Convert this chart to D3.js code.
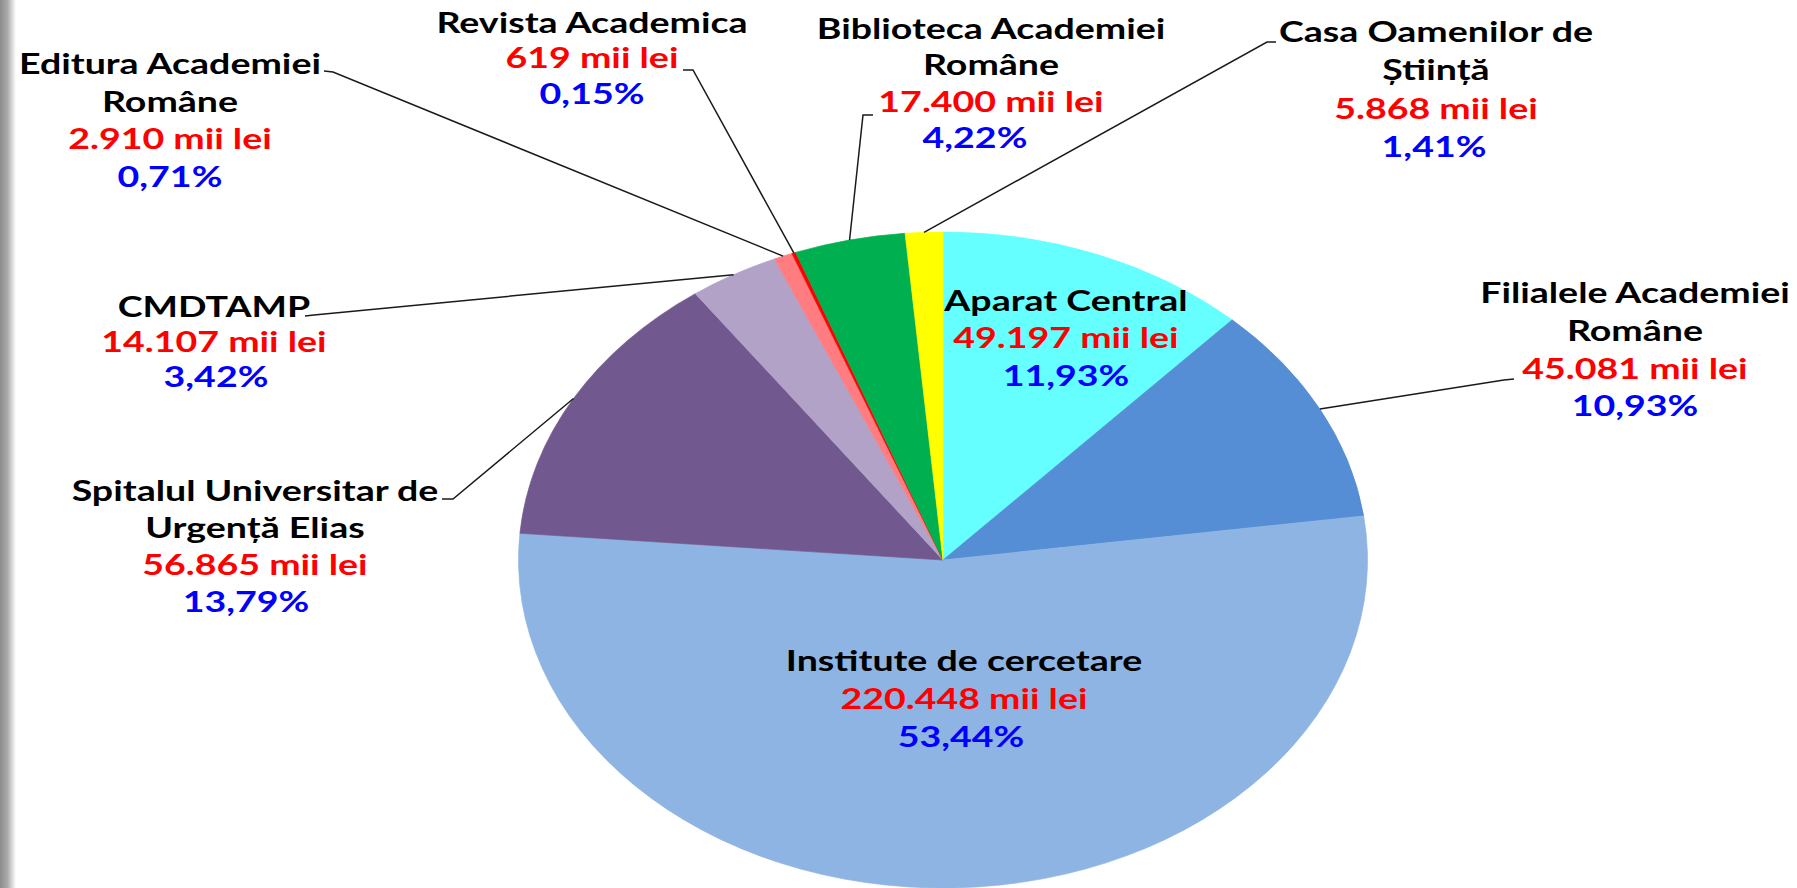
<!DOCTYPE html>
<html>
<head>
<meta charset="utf-8">
<script src="https://cdn.jsdelivr.net/npm/d3@7"></script>
<style>
  body { margin: 0; background: #fff; }
  svg { display: block; }
  text { font-family: Lato, "Noto Sans", sans-serif; font-weight: 700; }
</style>
</head>
<body>
<svg id="chart" width="1797" height="888"></svg>
<script>
// chart data
const nameLines = [
  ["Aparat Central"],
  ["Filialele Academiei", "Române"],
  ["Institute de cercetare"],
  ["Spitalul Universitar de", "Urgență Elias"],
  ["CMDTAMP"],
  ["Editura Academiei", "Române"],
  ["Revista Academica"],
  ["Biblioteca Academiei", "Române"],
  ["Casa Oamenilor de", "Știință"]
]
const values = [49197, 45081, 220448, 56865, 14107, 2910, 619, 17400, 5868]
const pctLabels = ["11,93%", "10,93%", "53,44%", "13,79%", "3,42%", "0,71%", "0,15%", "4,22%", "1,41%"]
const colors = ["#66FFFF", "#558ED5", "#8EB4E3", "#71588F", "#B3A2C7", "#FF7C80", "#FF0000", "#00B050", "#FFFF00"]

// layout (full picture coords): label centre x, first baseline, line height, pct shift, leader tick
const labelPos = [
  {x: 1066, y: 311, lh: 37.5, pdx: 0, tick: null},
  {x: 1635, y: 303, lh: 37.8, pdx: 0, tick: [[1514, 379], [1504, 380]]},
  {x: 964, y: 671, lh: 38, pdx: -3, tick: null},
  {x: 255, y: 501, lh: 37, pdx: -9, tick: [[442, 499], [453, 499]]},
  {x: 214, y: 317, lh: 35, pdx: 2, tick: [[305, 316], [314, 315]]},
  {x: 170, y: 74, lh: 37.6, pdx: 0, tick: [[324, 71], [333, 72]]},
  {x: 592, y: 33, lh: 35.5, pdx: 0, tick: [[683, 70], [693, 70]]},
  {x: 991, y: 39, lh: 36.5, pdx: -16, tick: [[873, 115], [863, 115]]},
  {x: 1436, y: 42, lh: 38.3, pdx: -2, tick: [[1276, 42], [1267, 42]]}
]

const W = 1797, H = 888
const cx = 943, cy = 560
const ry = 328, rx = 424.5
const sx = rx / ry          // the picture is stretched sideways
const fontSize = "29px"

const fmt = d3.formatLocale({decimal: ",", thousands: ".", grouping: [3], currency: ["", ""]}).format(",d")

const svg = d3.select("#chart")

// grey edge on the left
const grad = svg.append("defs").append("linearGradient").attr("id", "edge")
grad.append("stop").attr("offset", "0%").attr("stop-color", "#8c8c8c")
grad.append("stop").attr("offset", "45%").attr("stop-color", "#a8a8a8")
grad.append("stop").attr("offset", "100%").attr("stop-color", "#ffffff")
svg.append("rect").attr("x", 0).attr("y", 0).attr("width", 16).attr("height", H).attr("fill", "url(#edge)")

const g = svg.append("g").attr("transform", `scale(${sx},1)`)

const pie = d3.pie().sort(null).value(d => d)
const arcs = pie(values)
const arc = d3.arc().innerRadius(0).outerRadius(ry)

const pieG = g.append("g").attr("transform", `translate(${cx / sx},${cy})`)
pieG.selectAll("path")
  .data(arcs)
  .join("path")
  .attr("d", arc)
  .attr("fill", (d, i) => colors[i])
  .attr("stroke", (d, i) => colors[i])
  .attr("stroke-width", 0.6)

// leader lines
function edgePoint(d) {
  const a = (d.startAngle + d.endAngle) / 2
  return [cx / sx + ry * Math.sin(a), cy - ry * Math.cos(a)]
}
const line = d3.line()
arcs.forEach((d, i) => {
  const p = labelPos[i]
  if (!p.tick) return
  const pts = p.tick.map(t => [t[0] / sx, t[1]])
  pts.push(edgePoint(d))
  g.append("path")
    .attr("d", line(pts))
    .attr("fill", "none")
    .attr("stroke", "#1a1a1a")
    .attr("stroke-width", 1.5)
    .attr("vector-effect", "non-scaling-stroke")
})

// labels
arcs.forEach((d, i) => {
  const p = labelPos[i]
  const rows = nameLines[i].map(t => ({t: t, c: "#000000", dx: 0}))
  rows.push({t: fmt(values[i]) + " mii lei", c: "#FF0000", dx: 0})
  rows.push({t: pctLabels[i], c: "#0000FF", dx: p.pdx})
  rows.forEach((r, k) => {
    g.append("text")
      .attr("x", (p.x + r.dx) / sx)
      .attr("y", p.y + k * p.lh)
      .attr("text-anchor", "middle")
      .style("font-size", fontSize)
      .style("fill", r.c)
      .text(r.t)
  })
})
</script>
</body>
</html>
